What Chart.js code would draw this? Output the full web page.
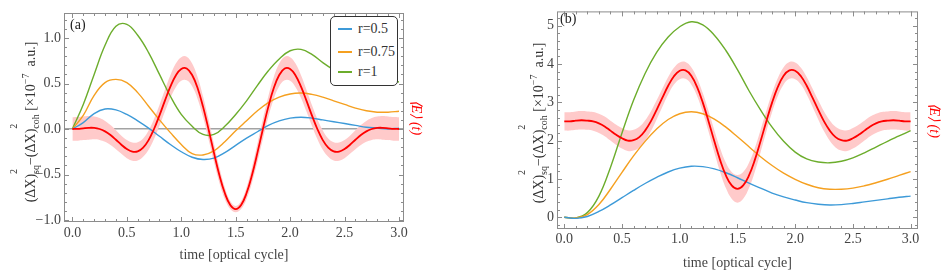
<!DOCTYPE html>
<html>
<head>
<meta charset="utf-8">
<script src="https://cdn.jsdelivr.net/npm/chart.js@4.4.0/dist/chart.umd.min.js"></script>
<style>
  body { margin: 0; background: #fff; }
  #wrap { position: relative; width: 944px; height: 275px; font-family: 'Liberation Serif', serif; color: #444; }
  canvas { position: absolute; top: 0; }
  .ytitle { position: absolute; white-space: nowrap; font-size: 14px; line-height: 16px; color: #333; transform: translate(-50%, -50%) rotate(-90deg); }
  .stk { position: relative; font-size: 10px; vertical-align: -4px; }
  .stk .up { position: absolute; left: 0; top: -24px; }
  .sup7 { font-size: 10px; vertical-align: 6px; }
  .panel { position: absolute; font-size: 14px; line-height: 16px; color: #222; }
  .legend { position: absolute; left: 330px; top: 16px; width: 66px; height: 68px; border: 1px solid #333; border-radius: 5px; background: #fff; }
  .row { position: absolute; left: 0; height: 16px; line-height: 16px; font-size: 14px; color: #333; }
  .row i { position: absolute; left: 7px; top: 7px; width: 14px; height: 2px; }
  .row span { position: absolute; left: 27px; top: 0; white-space: nowrap; }
</style>
</head>
<body>
<div id="wrap">
  <canvas id="chartA" width="472" height="275" style="left:0"></canvas>
  <canvas id="chartB" width="472" height="275" style="left:472px"></canvas>
  <div class="ytitle" style="left:31px; top:122px">(ΔX)<span class="stk"><span class="up">2</span>sq</span>−(ΔX)<span class="stk"><span class="up">2</span>coh</span> [×10<span class="sup7">−7</span>&nbsp; a.u.]</div>
  <div class="ytitle" style="left:539px; top:123px">(ΔX)<span class="stk"><span class="up">2</span>sq</span>−(ΔX)<span class="stk"><span class="up">2</span>coh</span> [×10<span class="sup7">−7</span>&nbsp; a.u.]</div>
  <div class="panel" style="left:70px; top:17px">(a)</div>
  <div class="panel" style="left:560px; top:11px">(b)</div>
  <div class="legend" id="legend"></div>
</div>
<script>
const seriesNames = ['r=0.5', 'r=0.75', 'r=1']
const seriesColors = ['#3d9ad8', '#f5a020', '#6cad2c']

const xTicks = [0, 0.5, 1, 1.5, 2, 2.5, 3]
const yTicksA = [-1, -0.5, 0, 0.5, 1]
const yTicksB = [0, 1, 2, 3, 4, 5]

// coarse time grid for the squeezing curves
const tCoarse = [0, 0.1, 0.2, 0.3, 0.4, 0.5, 0.6, 0.7, 0.8, 0.9, 1.0, 1.1, 1.2, 1.3, 1.4, 1.5,
  1.6, 1.7, 1.8, 1.9, 2.0, 2.1, 2.2, 2.3, 2.4, 2.5, 2.6, 2.7, 2.8, 2.9, 3.0]
// fine time grid for the field
const tFine = [0, 0.05, 0.1, 0.15, 0.2, 0.25, 0.3, 0.35, 0.4, 0.45, 0.5, 0.55, 0.6, 0.65, 0.7, 0.75,
  0.8, 0.85, 0.9, 0.95, 1.0, 1.05, 1.1, 1.15, 1.2, 1.25, 1.3, 1.35, 1.4, 1.45, 1.5,
  1.55, 1.6, 1.65, 1.7, 1.75, 1.8, 1.85, 1.9, 1.95, 2.0, 2.05, 2.1, 2.15, 2.2, 2.25,
  2.3, 2.35, 2.4, 2.45, 2.5, 2.55, 2.6, 2.65, 2.7, 2.75, 2.8, 2.85, 2.9, 2.95, 3.0]

// panel (a)
const blueA = [0, 0.07, 0.17, 0.22, 0.21, 0.16, 0.09, 0.01, -0.08, -0.17, -0.25, -0.31, -0.335, -0.32, -0.26, -0.18,
  -0.1, -0.03, 0.04, 0.09, 0.12, 0.13, 0.12, 0.1, 0.08, 0.06, 0.04, 0.02, 0.01, 0.0, 0.01]
const orangeA = [0, 0.15, 0.37, 0.51, 0.545, 0.51, 0.4, 0.25, 0.1, -0.04, -0.17, -0.27, -0.285, -0.24, -0.14, -0.02,
  0.09, 0.2, 0.29, 0.35, 0.385, 0.395, 0.38, 0.35, 0.31, 0.27, 0.23, 0.2, 0.185, 0.185, 0.195]
const greenA = [0, 0.27, 0.6, 0.92, 1.13, 1.15, 1.03, 0.84, 0.6, 0.36, 0.16, 0.03, -0.06, -0.06, 0.03, 0.16,
  0.31, 0.48, 0.64, 0.77, 0.86, 0.875, 0.82, 0.73, 0.65, 0.58, 0.53, 0.5, 0.49, 0.5, 0.52]
const fieldA = [0, 0.002, 0.008, 0.013, 0.012, 0, -0.026, -0.066, -0.118, -0.173, -0.22, -0.248, -0.246, -0.205, -0.122, 0,
  0.15, 0.312, 0.466, 0.589, 0.66, 0.665, 0.594, 0.451, 0.246, 0, -0.26, -0.505, -0.704, -0.835, -0.88,
  -0.835, -0.704, -0.505, -0.26, 0, 0.246, 0.451, 0.594, 0.665, 0.66, 0.589, 0.466, 0.312, 0.15, 0,
  -0.122, -0.205, -0.246, -0.248, -0.22, -0.173, -0.118, -0.066, -0.026, 0, 0.012, 0.013, 0.008, 0.002, 0]
const fieldErrA = [0.13, 0.13, 0.13, 0.13, 0.125, 0.12, 0.115, 0.11, 0.105, 0.1, 0.1, 0.1, 0.1, 0.1, 0.105, 0.11,
  0.115, 0.12, 0.125, 0.13, 0.13, 0.13, 0.125, 0.12, 0.115, 0.11, 0.1, 0.085, 0.065, 0.045, 0.035,
  0.045, 0.065, 0.085, 0.1, 0.11, 0.115, 0.12, 0.125, 0.13, 0.13, 0.13, 0.125, 0.12, 0.115, 0.11,
  0.105, 0.1, 0.1, 0.1, 0.1, 0.1, 0.105, 0.11, 0.115, 0.12, 0.125, 0.13, 0.13, 0.13, 0.13]

// panel (b)
const blueB = [0, -0.03, 0.02, 0.15, 0.32, 0.51, 0.7, 0.88, 1.04, 1.18, 1.28, 1.33, 1.32, 1.26, 1.16, 1.03,
  0.89, 0.76, 0.63, 0.53, 0.45, 0.38, 0.34, 0.32, 0.33, 0.36, 0.4, 0.44, 0.48, 0.52, 0.55]
const orangeB = [0, -0.02, 0.07, 0.33, 0.73, 1.17, 1.6, 1.98, 2.3, 2.55, 2.7, 2.75, 2.7, 2.56, 2.35, 2.1,
  1.84, 1.58, 1.35, 1.15, 0.99, 0.86, 0.77, 0.73, 0.73, 0.76, 0.82, 0.9, 0.99, 1.09, 1.19]
const greenB = [0, -0.02, 0.12, 0.55, 1.3, 2.2, 3.05, 3.75, 4.3, 4.7, 4.97, 5.1, 5.02, 4.75, 4.35, 3.85,
  3.3, 2.8, 2.35, 1.98, 1.7, 1.52, 1.44, 1.42, 1.46, 1.55, 1.68, 1.83, 1.98, 2.12, 2.26]
const fieldB = [2.5, 2.5, 2.52, 2.53, 2.52, 2.5, 2.45, 2.37, 2.26, 2.15, 2.06, 2.0, 2.01, 2.09, 2.26, 2.5,
  2.8, 3.12, 3.43, 3.68, 3.82, 3.83, 3.69, 3.4, 2.99, 2.5, 1.98, 1.49, 1.09, 0.83, 0.74,
  0.83, 1.09, 1.49, 1.98, 2.5, 2.99, 3.4, 3.69, 3.83, 3.82, 3.68, 3.43, 3.12, 2.8, 2.5,
  2.26, 2.09, 2.01, 2.0, 2.06, 2.15, 2.26, 2.37, 2.45, 2.5, 2.52, 2.53, 2.52, 2.5, 2.5]
const fieldErrB = [0.24, 0.24, 0.24, 0.24, 0.24, 0.245, 0.25, 0.255, 0.26, 0.265, 0.27, 0.27, 0.27, 0.27, 0.265, 0.26,
  0.25, 0.24, 0.23, 0.22, 0.22, 0.22, 0.225, 0.235, 0.25, 0.27, 0.29, 0.31, 0.33, 0.35, 0.36,
  0.35, 0.33, 0.31, 0.29, 0.27, 0.25, 0.235, 0.225, 0.22, 0.22, 0.22, 0.23, 0.24, 0.25, 0.26,
  0.265, 0.27, 0.27, 0.27, 0.27, 0.265, 0.26, 0.255, 0.25, 0.245, 0.24, 0.24, 0.24, 0.24, 0.24]

const serif = '"Liberation Serif", "Times New Roman", serif'
const font = { family: serif, size: 14 }
const textColor = '#444'
const frameColor = '#8c8c8c'

function pts (ts, ys) {
  return ts.map((t, i) => ({ x: t, y: ys[i] }))
}

// frame with inward major/minor ticks on all four sides
const framePlugin = {
  id: 'frame',
  afterDraw (chart, args, opts) {
    const { ctx, chartArea: a, scales } = chart
    ctx.save()
    ctx.strokeStyle = frameColor
    ctx.lineWidth = 1
    ctx.strokeRect(a.left + 0.5, a.top + 0.5, a.width - 1, a.height - 1)
    ctx.beginPath()
    const marks = (scale, minor, major, cb) => {
      const lo = Math.ceil(scale.min / minor - 1e-6)
      const hi = Math.floor(scale.max / minor + 1e-6)
      for (let i = lo; i <= hi; i++) {
        const v = i * minor
        const r = v / major
        const isMajor = Math.abs(r - Math.round(r)) < 1e-6
        cb(Math.round(scale.getPixelForValue(v)) + 0.5, isMajor ? 5 : 3)
      }
    }
    marks(scales.x, opts.xMinor, opts.xMajor, (p, len) => {
      ctx.moveTo(p, a.bottom); ctx.lineTo(p, a.bottom - len)
      ctx.moveTo(p, a.top); ctx.lineTo(p, a.top + len)
    })
    marks(scales.y, opts.yMinor, opts.yMajor, (p, len) => {
      ctx.moveTo(a.left, p); ctx.lineTo(a.left + len, p)
      ctx.moveTo(a.right, p); ctx.lineTo(a.right - len, p)
    })
    ctx.stroke()
    ctx.restore()
  }
}

function makeChart (id, d) {
  const hi = d.field.map((v, i) => v + d.err[i])
  const lo = d.field.map((v, i) => v - d.err[i])
  const datasets = [
    { data: pts(tFine, hi), borderWidth: 0, borderColor: 'rgba(0,0,0,0)', fill: false, order: 3 },
    { data: pts(tFine, lo), borderWidth: 0, borderColor: 'rgba(0,0,0,0)', backgroundColor: '#ffcaca', fill: '-1', order: 3 }
  ]
  d.curves.forEach((ys, i) => {
    datasets.push({ label: seriesNames[i], data: pts(tCoarse, ys), borderColor: seriesColors[i], borderWidth: 1.4, fill: false, order: 2 })
  })
  datasets.push({ data: pts(tFine, d.field), borderColor: '#ff0000', borderWidth: 1.8, fill: false, order: 1 })

  return new Chart(document.getElementById(id), {
    type: 'line',
    data: { datasets: datasets },
    plugins: [framePlugin],
    options: {
      responsive: false,
      animation: false,
      devicePixelRatio: 1,
      elements: { point: { radius: 0 }, line: { tension: 0.4 } },
      layout: { padding: { top: d.top, left: 0, right: 0, bottom: 0 } },
      plugins: {
        legend: { display: false },
        tooltip: { enabled: false },
        frame: { xMinor: 0.1, xMajor: 0.5, yMinor: d.yMinor, yMajor: d.yMajor }
      },
      scales: {
        x: {
          type: 'linear',
          min: d.xMin,
          max: d.xMax,
          afterBuildTicks: s => { s.ticks = xTicks.map(v => ({ value: v })) },
          afterFit: s => { s.height = d.xHeight },
          grid: { display: false, drawTicks: false },
          border: { display: false },
          ticks: { font: font, color: textColor, padding: d.xPad, maxRotation: 0, autoSkip: false, callback: v => v.toFixed(1) },
          title: { display: true, text: 'time [optical cycle]', font: font, color: textColor, padding: { top: 0, bottom: d.xTitlePad } }
        },
        y: {
          type: 'linear',
          min: d.yMin,
          max: d.yMax,
          afterBuildTicks: s => { s.ticks = d.yTicks.map(v => ({ value: v })) },
          afterFit: s => { s.width = d.yWidth },
          grid: {
            display: d.zeroLine,
            drawTicks: false,
            lineWidth: 1.5,
            color: c => (c.tick && c.tick.value === 0) ? '#a3a3a3' : 'rgba(0,0,0,0)'
          },
          border: { display: false },
          ticks: { font: font, color: textColor, padding: 3, autoSkip: false, callback: d.yFmt }
        },
        y2: {
          type: 'linear',
          position: 'right',
          afterFit: s => { s.width = d.y2Width },
          grid: { display: false, drawTicks: false },
          border: { display: false },
          ticks: { display: false },
          title: { display: true, text: '\u27E8E\u27E9 (t)', color: '#ff0000', font: { family: serif, size: 14, style: 'italic' }, padding: { top: d.eTitlePad, bottom: 0 } }
        }
      }
    }
  })
}

makeChart('chartA', {
  curves: [blueA, orangeA, greenA],
  field: fieldA,
  err: fieldErrA,
  xMin: -0.077, xMax: 3.046,
  yMin: -1.022, yMax: 1.275,
  yTicks: yTicksA, yMinor: 0.1, yMajor: 0.5,
  yFmt: v => (v < 0 ? '\u2212' : '') + Math.abs(v).toFixed(1),
  zeroLine: true,
  top: 13, xHeight: 53, yWidth: 64, y2Width: 68,
  xPad: 3, xTitlePad: 11, eTitlePad: 48
})

makeChart('chartB', {
  curves: [blueB, orangeB, greenB],
  field: fieldB,
  err: fieldErrB,
  xMin: -0.063, xMax: 3.064,
  yMin: -0.307, yMax: 5.37,
  yTicks: yTicksB, yMinor: 0.2, yMajor: 1,
  yFmt: v => String(v),
  zeroLine: false,
  top: 7, xHeight: 46, yWidth: 85, y2Width: 26,
  xPad: 2, xTitlePad: 3, eTitlePad: 2
})

const legendDiv = document.getElementById('legend')
const rowTops = [4, 27, 47]
seriesNames.forEach((name, i) => {
  const row = document.createElement('div')
  row.className = 'row'
  row.style.top = rowTops[i] + 'px'
  row.innerHTML = '<i style="background:' + seriesColors[i] + '"></i><span>' + name + '</span>'
  legendDiv.appendChild(row)
})
</script>
</body>
</html>
